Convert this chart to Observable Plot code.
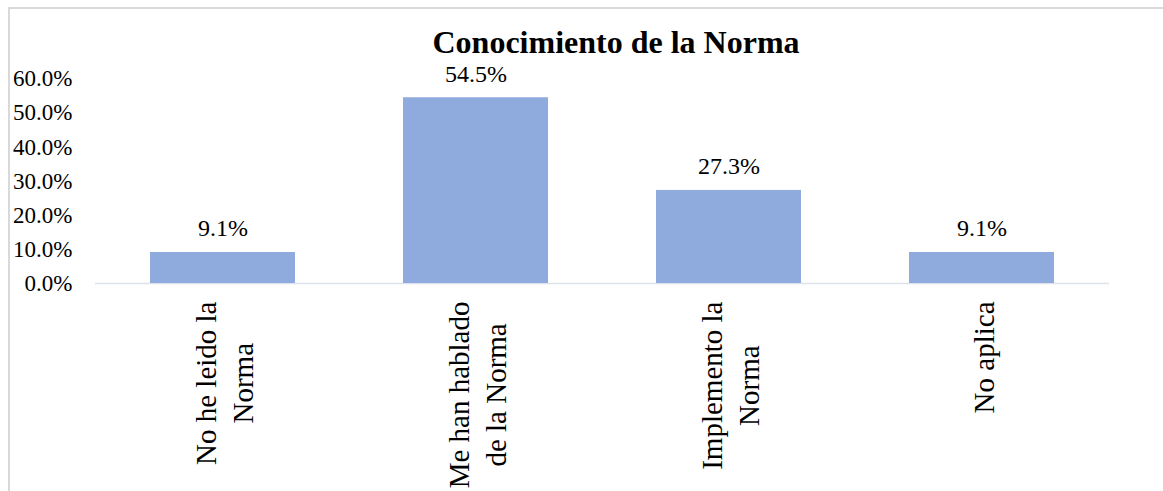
<!DOCTYPE html>
<html>
<head>
<meta charset="utf-8">
<script src="https://cdn.jsdelivr.net/npm/d3@7"></script>
<script src="https://cdn.jsdelivr.net/npm/@observablehq/plot@0.6"></script>
<style>
  html, body { margin: 0; padding: 0; background: #fff; overflow: hidden; }
  #wrap { position: relative; width: 1163px; height: 491px; overflow: hidden; background: #fff; }
  #frame { position: absolute; left: 8px; top: 7px; width: 1300px; height: 600px; border: 2px solid #d9d9d9; box-sizing: border-box; }
  #title { position: absolute; left: 0; top: 26px; width: 1232px; text-align: center;
           font-family: "Liberation Serif", "Times New Roman", serif; font-weight: bold;
           font-size: 32px; line-height: 32px; color: #000; z-index: 2; }
  #chart { position: absolute; left: 0; top: 0; z-index: 1; }
  #chart svg, #chart svg text, #chart svg tspan { font-family: "Liberation Serif", "Times New Roman", serif !important; }
</style>
</head>
<body>
<div id="wrap">
  <div id="frame"></div>
  <div id="chart"></div>
  <div id="title">Conocimiento de la Norma</div>
</div>
<script>
const categories = ["No he leido la\nNorma", "Me han hablado\nde la Norma", "Implemento la\nNorma", "No aplica"];
const values = [0.091, 0.545, 0.273, 0.091];
const yTicks = [0, 0.1, 0.2, 0.3, 0.4, 0.5, 0.6];

const data = categories.map((c, i) => ({category: c, value: values[i]}));

const chart = Plot.plot({
  width: 1163,
  height: 491,
  marginTop: 78.5,
  marginBottom: 208,
  marginLeft: 95,
  marginRight: 54,
  style: {fontFamily: "'Liberation Serif', 'Times New Roman', serif", color: "#000", background: "transparent", overflow: "visible"},
  x: {domain: categories, paddingInner: 0.428, paddingOuter: 0.214, axis: null},
  y: {domain: [0, 0.6], axis: null, label: null},
  marks: [
    Plot.axisY({ticks: yTicks, tickFormat: ".1%", tickSize: 0, tickPadding: 23, fontSize: 23, fill: "#000", label: null}),
    Plot.ruleY([0], {stroke: "#dde2ec", strokeWidth: 1.5}),
    Plot.barY(data, {x: "category", y: "value", fill: "#8faadc"}),
    Plot.text(data, {x: "category", y: "value", text: d => d3.format(".1%")(d.value),
      lineAnchor: "bottom", dy: -16, fontSize: 24, fill: "#000"}),
    Plot.text(data, {x: "category", text: "category", frameAnchor: "bottom", rotate: -90,
      textAnchor: "end", lineAnchor: "middle", lineHeight: 1.25, dy: 18, fontSize: 29, fill: "#000"})
  ]
});

document.getElementById("chart").appendChild(chart);

// center multi-line rotated category labels (Excel-style)
chart.querySelectorAll("text").forEach(t => {
  const tr = t.getAttribute("transform") || "";
  if (!tr.includes("rotate(-90")) return;
  const spans = Array.from(t.querySelectorAll("tspan"));
  if (spans.length < 2) return;
  const lens = spans.map(s => s.getComputedTextLength());
  const L = Math.max(...lens);
  spans.forEach((s, i) => s.setAttribute("x", -(L - lens[i]) / 2));
});
</script>
</body>
</html>
